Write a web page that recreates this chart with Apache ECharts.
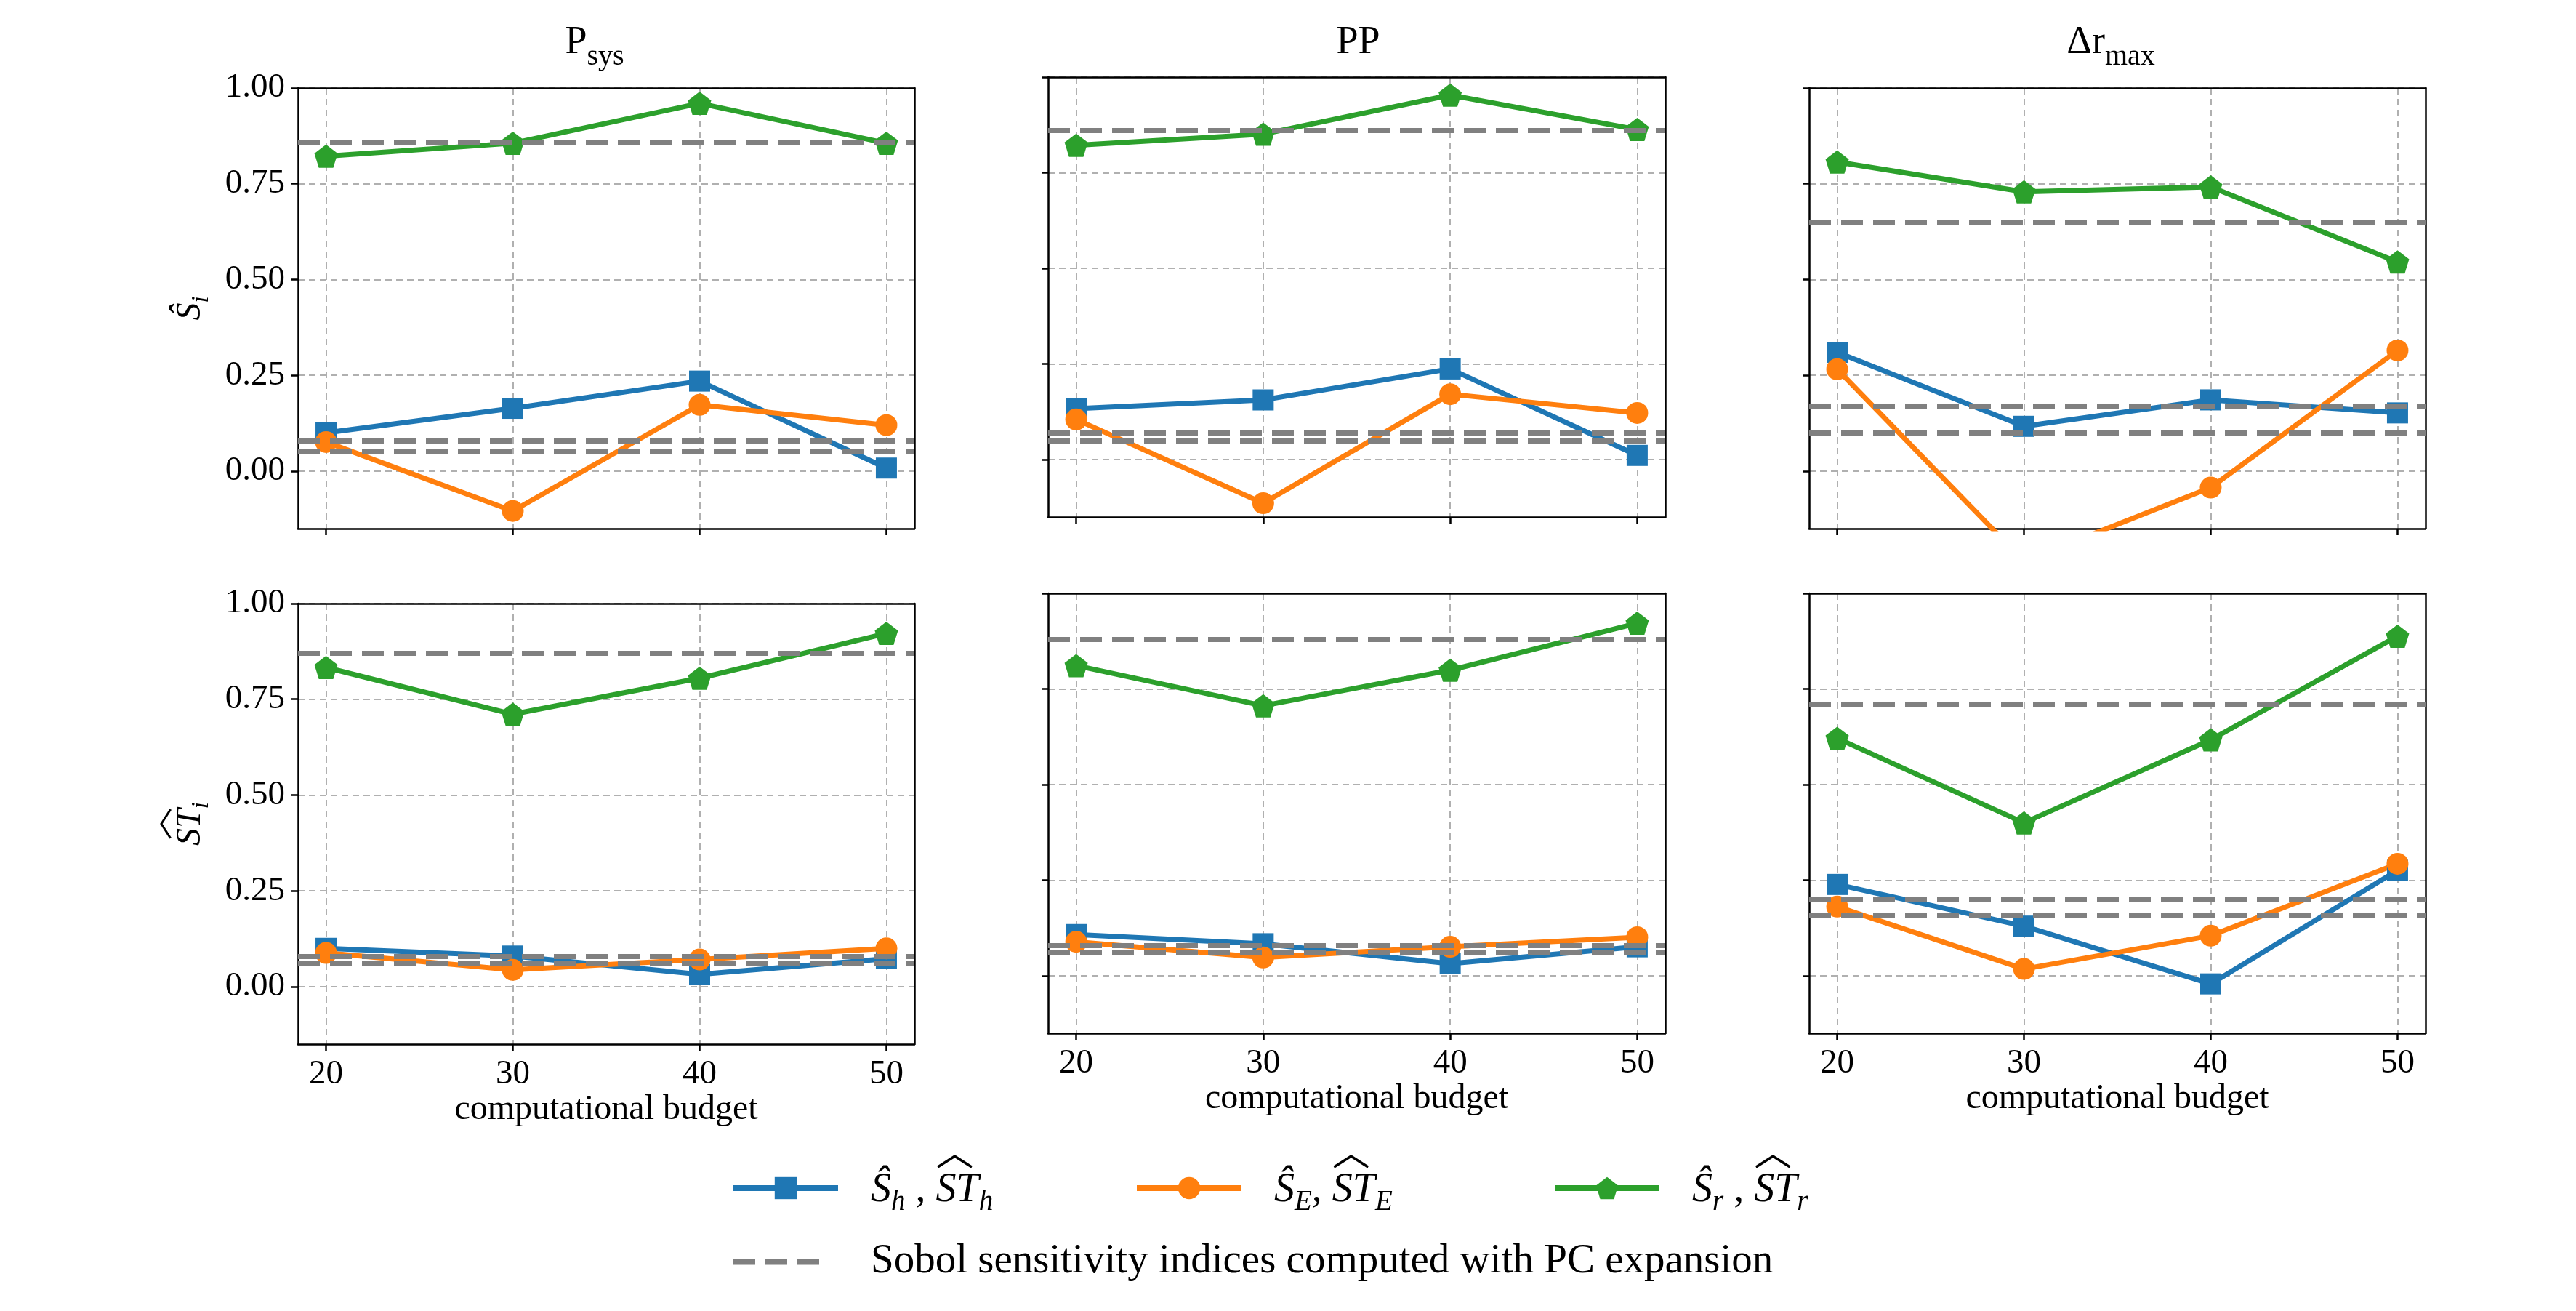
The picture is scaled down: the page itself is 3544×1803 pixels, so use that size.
<!DOCTYPE html>
<html>
<head>
<meta charset="utf-8">
<script src="https://cdn.jsdelivr.net/npm/echarts@6/dist/echarts.min.js"></script>
<style>
  html, body { margin: 0; background: #fff; }
  #chart { width: 3544px; height: 1803px; }
</style>
</head>
<body>
<div id="chart"></div>
<script>
// budgets on the x axis and y tick values
const budgets = [20, 30, 40, 50];
const yTicks = [0, 0.25, 0.5, 0.75, 1.0];

// first order indices (top row)
const psysS_h = [0.100, 0.164, 0.235, 0.008];
const psysS_E = [0.076, -0.104, 0.173, 0.120];
const psysS_r = [0.822, 0.856, 0.960, 0.856];
const psysS_pc = [0.864, 0.076, 0.054];

const ppS_h = [0.133, 0.156, 0.237, 0.011];
const ppS_E = [0.105, -0.114, 0.171, 0.122];
const ppS_r = [0.822, 0.851, 0.953, 0.863];
const ppS_pc = [0.864, 0.071, 0.051];

const rmaxS_h = [0.310, 0.117, 0.186, 0.152];
const rmaxS_E = [0.266, -0.235, -0.043, 0.315];
const rmaxS_r = [0.807, 0.729, 0.742, 0.546];
const rmaxS_pc = [0.645, 0.174, 0.105];

// total indices (bottom row)
const psysST_h = [0.100, 0.080, 0.032, 0.073];
const psysST_E = [0.088, 0.044, 0.071, 0.100];
const psysST_r = [0.833, 0.711, 0.805, 0.922];
const psysST_pc = [0.870, 0.080, 0.057];

const ppST_h = [0.108, 0.084, 0.032, 0.076];
const ppST_E = [0.089, 0.048, 0.076, 0.101];
const ppST_r = [0.811, 0.706, 0.799, 0.922];
const ppST_pc = [0.878, 0.078, 0.062];

const rmaxST_h = [0.239, 0.130, -0.021, 0.276];
const rmaxST_E = [0.181, 0.018, 0.105, 0.293];
const rmaxST_r = [0.621, 0.400, 0.617, 0.888];
const rmaxST_pc = [0.715, 0.198, 0.164];

const F = 'Liberation Serif';
const BLUE = '#1f77b4', ORANGE = '#ff7f0e', GREEN = '#2ca02c', GRAY = '#808080';
const PENTAGON = 'path://M50 0 L97.55 34.55 L79.39 90.45 L20.61 90.45 L2.45 34.55 Z';
const DASH = [30, 14];

const panels = [
  { h: psysS_h, E: psysS_E, r: psysS_r, pc: psysS_pc, box: [410, 121, 848, 606], col: 0, row: 0 },
  { h: ppS_h, E: ppS_E, r: ppS_r, pc: ppS_pc, box: [1442, 106, 849, 605], col: 1, row: 0 },
  { h: rmaxS_h, E: rmaxS_E, r: rmaxS_r, pc: rmaxS_pc, box: [2489, 121, 848, 606], col: 2, row: 0 },
  { h: psysST_h, E: psysST_E, r: psysST_r, pc: psysST_pc, box: [410, 830, 848, 606], col: 0, row: 1 },
  { h: ppST_h, E: ppST_E, r: ppST_r, pc: ppST_pc, box: [1442, 816, 849, 605], col: 1, row: 1 },
  { h: rmaxST_h, E: rmaxST_E, r: rmaxST_r, pc: rmaxST_pc, box: [2489, 816, 848, 605], col: 2, row: 1 }
];

const titles = ['{m|P}{s|sys}', '{m|PP}', '{m|\u0394r}{s|max}'];
const titleShift = [-21, -3, -14];

function makeRich(size, sub) {
  return {
    it: { fontFamily: F, fontStyle: 'italic', fontSize: size, verticalAlign: 'bottom', padding: [0, 0, 8, 0] },
    sub: { fontFamily: F, fontStyle: 'italic', fontSize: sub, verticalAlign: 'bottom' },
    n: { fontFamily: F, fontSize: size, verticalAlign: 'bottom', padding: [0, 0, 8, 0] },
    hat: { fontFamily: 'Noto Sans CJK SC', fontSize: size - 4, lineHeight: 14, verticalAlign: 'bottom' },
    gi: { fontFamily: F, fontStyle: 'italic', fontSize: size, lineHeight: 14, color: 'rgba(0,0,0,0)' },
    gsub: { fontFamily: F, fontStyle: 'italic', fontSize: sub, lineHeight: 14, color: 'rgba(0,0,0,0)' },
    gn: { fontFamily: F, fontSize: size, lineHeight: 14, color: 'rgba(0,0,0,0)' }
  };
}
const axisRich = makeRich(48, 33);
const legendRich = makeRich(56, 39);

const yNames = ['{it|\u015C}{sub|i}', '{hat|\uFE3F}\n{it|ST}{sub|i}'];

const legendText = {
  h: '{gi|\u015C}{gsub|h}{gn| , }{hat|\uFE3F}\n{it|\u015C}{sub|h}{n| , }{it|ST}{sub|h}',
  E: '{gi|\u015C}{gsub|E}{gn|, }{hat|\uFE3F}\n{it|\u015C}{sub|E}{n|, }{it|ST}{sub|E}',
  r: '{gi|\u015C}{gsub|r}{gn| , }{hat|\uFE3F}\n{it|\u015C}{sub|r}{n| , }{it|ST}{sub|r}',
  pc: 'Sobol sensitivity indices computed with PC expansion'
};

const grid = [], xAxis = [], yAxis = [], series = [], title = [];
const frameX = [], frameY = [];
const frameLine = { show: true, onZero: false, lineStyle: { color: '#000', width: 2.5 } };

panels.forEach((p, i) => {
  const [l, t, w, hgt] = p.box;
  grid.push({ left: l, top: t, width: w, height: hgt, show: false });
  if (p.row === 0) {
    title.push({
      text: titles[p.col], left: l + w / 2 + titleShift[p.col], top: 27, textAlign: 'center', textVerticalAlign: 'top',
      textStyle: {
        fontWeight: 'normal',
        rich: {
          m: { fontFamily: F, fontSize: 54, fontWeight: 'normal', color: '#000', verticalAlign: 'bottom', padding: [0, 0, 12, 0] },
          s: { fontFamily: F, fontSize: 40, fontWeight: 'normal', color: '#000', verticalAlign: 'bottom' }
        }
      }
    });
  }
  const bottom = p.row === 1;
  xAxis.push({
    type: 'value', gridIndex: i, min: 18.5, max: 51.5,
    axisLine: frameLine,
    axisTick: { show: true, customValues: budgets, length: 9, lineStyle: { color: '#000', width: 2.5 } },
    axisLabel: { show: bottom, customValues: budgets, margin: 18, color: '#000', fontFamily: F, fontSize: 47 },
    splitLine: { show: true, lineStyle: { color: '#b0b0b0', width: 2, type: [9, 6] } },
    name: bottom ? 'computational budget' : '', nameLocation: 'middle', nameGap: 64,
    nameTextStyle: { color: '#000', fontFamily: F, fontSize: 48 }
  });
  yAxis.push({
    type: 'value', gridIndex: i, min: -0.15, max: 1.0,
    axisLine: frameLine,
    axisTick: { show: true, customValues: yTicks, length: 9, lineStyle: { color: '#000', width: 2.5 } },
    axisLabel: { show: p.col === 0, customValues: yTicks, margin: 18, color: '#000', fontFamily: F, fontSize: 47, formatter: v => v.toFixed(2) },
    splitLine: { show: true, lineStyle: { color: '#b0b0b0', width: 2, type: [9, 6] } },
    name: p.col === 0 ? yNames[p.row] : '', nameLocation: 'middle', nameRotate: 90, nameGap: 116,
    nameTextStyle: { color: '#000', rich: axisRich }
  });
  // top and right spines of the box
  frameX.push({ type: 'value', gridIndex: i, position: 'top', min: 18.5, max: 51.5, axisLine: frameLine,
    axisTick: { show: false }, axisLabel: { show: false }, splitLine: { show: false } });
  frameY.push({ type: 'value', gridIndex: i, position: 'right', min: -0.15, max: 1.0, axisLine: frameLine,
    axisTick: { show: false }, axisLabel: { show: false }, splitLine: { show: false } });

  series.push({
    name: 'pc', type: 'line', xAxisIndex: i, yAxisIndex: i, data: [], symbol: 'none', z: 2,
    lineStyle: { color: GRAY, width: 7, type: DASH }, itemStyle: { color: GRAY },
    markLine: {
      silent: true, symbol: 'none', label: { show: false }, animation: false,
      lineStyle: { color: GRAY, width: 7, type: DASH },
      data: p.pc.map(v => ({ yAxis: v }))
    }
  });
  const mk = (name, vals, color, symbol, size) => ({
    name, type: 'line', xAxisIndex: i, yAxisIndex: i, z: 3,
    data: budgets.map((b, k) => [b, vals[k]]),
    symbol, symbolSize: size, showSymbol: true,
    lineStyle: { color, width: 7 }, itemStyle: { color }
  });
  series.push(mk('h', p.h, BLUE, 'rect', 29));
  series.push(mk('E', p.E, ORANGE, 'circle', 30));
  series.push(mk('r', p.r, GREEN, PENTAGON, 32));
});

const legendBase = {
  itemWidth: 144, itemHeight: 38, selectedMode: false,
  lineStyle: { width: 8 },
  formatter: n => legendText[n],
  textStyle: { color: '#000', fontFamily: F, fontSize: 57, padding: [0, 0, 0, 40], rich: legendRich }
};

const option = {
  animation: false,
  backgroundColor: '#fff',
  title,
  grid,
  xAxis: xAxis.concat(frameX),
  yAxis: yAxis.concat(frameY),
  series,
  legend: [
    Object.assign({}, legendBase, { data: ['h'], left: 1000, top: 1552 }),
    Object.assign({}, legendBase, { data: ['E'], left: 1555, top: 1552 }),
    Object.assign({}, legendBase, { data: ['r'], left: 2130, top: 1552 }),
    Object.assign({}, legendBase, {
      data: ['pc'], left: 1000, top: 1702, itemWidth: 118,
      itemStyle: { color: 'rgba(0,0,0,0)', borderWidth: 0 },
      textStyle: Object.assign({}, legendBase.textStyle, { padding: [0, 0, 0, 66] })
    })
  ]
};

const chart = echarts.init(document.getElementById('chart'));
chart.setOption(option);
</script>
</body>
</html>
